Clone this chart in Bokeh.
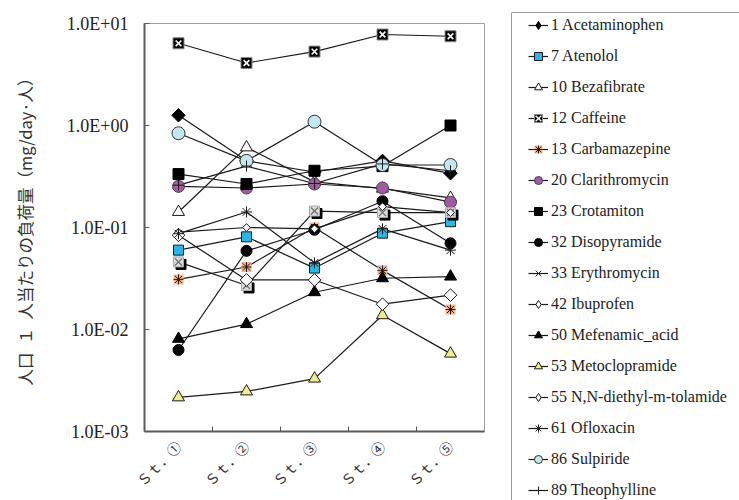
import numpy as np
from math import pi
from bokeh.plotting import figure
from bokeh.models import FixedTicker, LinearAxis, Legend, LegendItem, Span, Range1d
from bokeh.layouts import row
from bokeh.embed import file_html
from bokeh.resources import INLINE

# ---------------- data ----------------
stations = ["Ｓｔ．①", "Ｓｔ．②", "Ｓｔ．③", "Ｓｔ．④", "Ｓｔ．⑤"]
y_ticks = [0.001, 0.01, 0.1, 1.0, 10.0]
y_tick_labels = ["1.0E-03", "1.0E-02", "1.0E-01", "1.0E+00", "1.0E+01"]
y_title = "人口\u2002１\u2002人当たりの負荷量（mg/day·人）"

series_names = [
    "1 Acetaminophen", "7 Atenolol", "10 Bezafibrate", "12 Caffeine",
    "13 Carbamazepine", "20 Clarithromycin", "23 Crotamiton", "32 Disopyramide",
    "33 Erythromycin", "42 Ibuprofen", "50 Mefenamic_acid", "53 Metoclopramide",
    "55 N,N-diethyl-m-tolamide", "61 Ofloxacin", "86 Sulpiride", "89 Theophylline",
]

acetaminophen = [1.26, 0.45, 0.35, 0.45, 0.34]
atenolol = [0.060, 0.081, 0.040, 0.088, 0.114]
bezafibrate = [0.142, 0.61, 0.28, 0.24, 0.195]
caffeine = [6.4, 4.1, 5.3, 7.8, 7.5]
carbamazepine = [0.031, 0.041, 0.100, 0.038, 0.0157]
clarithromycin = [0.253, 0.244, 0.267, 0.244, 0.177]
crotamiton = [0.334, 0.267, 0.36, 0.40, 1.0]
disopyramide = [0.0063, 0.059, 0.095, 0.181, 0.070]
erythromycin = [0.046, 0.027, 0.145, 0.14, 0.14]
ibuprofen = [0.090, 0.100, 0.097, 0.16, 0.14]
mefenamic_acid = [0.0081, 0.0113, 0.0232, 0.0318, 0.033]
metoclopramide = [0.00216, 0.00247, 0.0033, 0.0138, 0.0058]
deet = [0.084, 0.0306, 0.0306, 0.0177, 0.0217]
ofloxacin = [0.087, 0.142, 0.045, 0.097, 0.060]
sulpiride = [0.84, 0.45, 1.09, 0.41, 0.41]
theophylline = [0.26, 0.40, 0.27, 0.42, 0.36]

series_values = [
    acetaminophen, atenolol, bezafibrate, caffeine, carbamazepine, clarithromycin,
    crotamiton, disopyramide, erythromycin, ibuprofen, mefenamic_acid,
    metoclopramide, deet, ofloxacin, sulpiride, theophylline,
]

# ---------------- styles ----------------
D = pi / 4
K = "#1a1a1a"
AX = "#5a5a5a"
BLUE = "#2cb5e8"
SALMON = "#f7b48a"
PURPLE = "#a35aa5"
YELLOW = "#f2ec8f"
LBLUE = "#c4e6ee"

plot_styles = [
    [dict(marker="square", size=9.5, angle=D, fill_color="black", line_color="black")],
    [dict(marker="square", size=10, fill_color=BLUE, line_color=K)],
    [dict(marker="triangle", size=12, fill_color="white", line_color=K)],
    [dict(marker="square", size=11, fill_color="black", line_color="#888888"),
     dict(marker="x", size=8, line_color="white", line_width=1.6)],
    [dict(marker="square", size=10, fill_color=SALMON, line_color=None),
     dict(marker="asterisk", size=10, line_color=K)],
    [dict(marker="circle", size=12, fill_color=PURPLE, line_color="#444444")],
    [dict(marker="square", size=11, fill_color="black", line_color="black")],
    [dict(marker="circle", size=11, fill_color="black", line_color="black")],
    [dict(marker="square", size=10, fill_color="black", line_color="black", offset=(2.5, 2.5)),
     dict(marker="square", size=10, fill_color="#dcdcdc", line_color="#aaaaaa"),
     dict(marker="x", size=10, line_color="#707070", line_width=1.3)],
    [dict(marker="square", size=5.5, angle=D, fill_color="white", line_color=K)],
    [dict(marker="triangle", size=12, fill_color="black", line_color="black")],
    [dict(marker="triangle", size=12, fill_color=YELLOW, line_color=K)],
    [dict(marker="square", size=9, angle=D, fill_color="white", line_color=K)],
    [dict(marker="asterisk", size=11, line_color=K)],
    [dict(marker="circle", size=13, fill_color=LBLUE, line_color="#333333")],
    [dict(marker="cross", size=11, line_color=K)],
]

legend_styles = [
    [dict(marker="diamond", fill_color="black", line_color="black")],
    [dict(marker="square", fill_color=BLUE, line_color=K)],
    [dict(marker="triangle", fill_color="white", line_color=K)],
    [dict(marker="square", fill_color="black", line_color="#888888"),
     dict(marker="x", line_color="white", line_width=1.4)],
    [dict(marker="square", fill_color=SALMON, line_color=None),
     dict(marker="asterisk", line_color=K)],
    [dict(marker="circle", fill_color=PURPLE, line_color="#444444")],
    [dict(marker="square", fill_color="black", line_color="black")],
    [dict(marker="circle", fill_color="black", line_color="black")],
    [dict(marker="x", line_color=K)],
    [dict(marker="diamond", fill_color="white", line_color=K)],
    [dict(marker="triangle", fill_color="black", line_color="black")],
    [dict(marker="triangle", fill_color=YELLOW, line_color=K)],
    [dict(marker="diamond", fill_color="white", line_color=K)],
    [dict(marker="asterisk", line_color=K)],
    [dict(marker="circle", fill_color=LBLUE, line_color="#333333")],
    [dict(marker="cross", line_color=K)],
]

# ---------------- main plot ----------------
n = len(stations)
x_pos = [i + 0.5 for i in range(n)]
boundaries = [float(i) for i in range(1, n)]

p = figure(width=500, height=500,
           x_range=Range1d(0, n), y_range=Range1d(y_ticks[0], y_ticks[-1]),
           y_axis_type="log", x_axis_location=None,
           output_backend="svg", toolbar_location=None,
           min_border_left=144, min_border_right=16,
           min_border_top=23, min_border_bottom=66,
           outline_line_color="#a0a0a0", background_fill_color="white",
           border_fill_color="white")
p.grid.visible = False

ya = p.yaxis[0]
ya.ticker = FixedTicker(ticks=y_ticks, minor_ticks=[])
ya.major_label_overrides = dict(zip(y_ticks, y_tick_labels))
ya.major_tick_in = 5
ya.major_tick_out = 0
ya.minor_tick_line_color = None
ya.major_tick_line_color = AX
ya.axis_line_color = AX
ya.axis_line_width = 2
ya.major_label_standoff = 16
ya.major_label_text_font = "Liberation Serif"
ya.major_label_text_font_size = "18px"
ya.major_label_text_color = "#222222"
ya.axis_label = y_title
ya.axis_label_text_font = "Noto Sans CJK JP"
ya.axis_label_text_font_style = "normal"
ya.axis_label_text_font_size = "16.5px"
ya.axis_label_text_color = "#333333"
ya.axis_label_standoff = 27

# station labels on major ticks (centres, no tick mark), tick marks on the
# category boundaries drawn as minor ticks
xa = LinearAxis(ticker=FixedTicker(ticks=x_pos, minor_ticks=boundaries),
                major_label_overrides=dict(zip(x_pos, stations)),
                major_tick_in=0, major_tick_out=0, major_tick_line_color=None,
                minor_tick_in=5, minor_tick_out=0, minor_tick_line_color=AX,
                axis_line_color=AX, axis_line_width=2,
                major_label_orientation=pi / 4,
                major_label_standoff=12,
                major_label_text_font="Noto Sans CJK JP",
                major_label_text_font_size="14px",
                major_label_text_color="#333333")
p.add_layout(xa, "below")

PX_X = 340.0 / n          # px per x unit
PX_DEC = 411.0 / 4.0      # px per decade

for vals in series_values:
    p.line(x_pos, vals, line_color=K, line_width=1.2)

for vals, layers in zip(series_values, plot_styles):
    for layer in layers:
        kw = dict(layer)
        off = kw.pop("offset", None)
        xs, ys = list(x_pos), list(vals)
        if off is not None:
            xs = [x + off[0] / PX_X for x in xs]
            ys = [y * 10 ** (-off[1] / PX_DEC) for y in ys]
        p.scatter(xs, ys, **kw)

# ---------------- legend panel ----------------
p2 = figure(width=239, height=500, x_range=Range1d(0, 1), y_range=Range1d(0, 1),
            x_axis_location=None, y_axis_location=None,
            output_backend="svg", toolbar_location=None,
            min_border_left=11, min_border_top=12, min_border_right=0, min_border_bottom=0,
            outline_line_color=None, background_fill_color="white",
            border_fill_color="white", frame_align=False)
p2.grid.visible = False
p2.add_layout(Span(location=0, dimension="height", line_color="#333333", line_width=1))
p2.add_layout(Span(location=1, dimension="width", line_color="#333333", line_width=1))

# legend proxies: a single point outside the visible range, only drawn in the legend
items = []
for name, layers in zip(series_names, legend_styles):
    rs = [p2.line([-5, -4], [-5, -4], line_color=K, line_width=1.2)]
    for layer in layers:
        rs.append(p2.scatter([-5], [-5], **layer))
    items.append(LegendItem(label=name, renderers=rs))

legend = Legend(items=items, location=(17, 0), padding=0, margin=0,
                spacing=11, glyph_width=20, glyph_height=20, label_height=20,
                label_standoff=3, border_line_color=None, background_fill_alpha=0,
                label_text_font="Liberation Serif", label_text_font_size="16px",
                label_text_color="#222222")
p2.add_layout(legend, "center")

layout = row(p, p2)
open("out.html", "w").write(file_html(layout, INLINE))
